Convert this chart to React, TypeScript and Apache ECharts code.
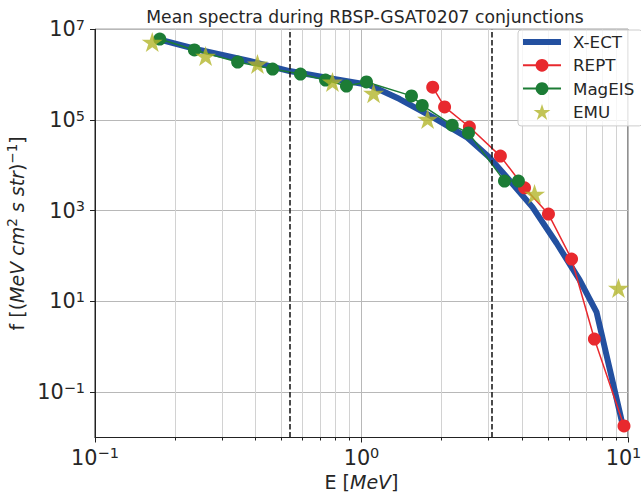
import React, { useEffect, useRef } from 'react';
import * as echarts from 'echarts';

// ---------- data ----------
const chartTitle = 'Mean spectra during RBSP-GSAT0207 conjunctions';
const seriesNames = ['X-ECT', 'REPT', 'MagEIS', 'EMU'];

// X-ECT mean spectrum (E in MeV, f in (MeV cm^2 s str)^-1)
const xectE = [0.178, 0.247, 0.38, 0.537, 0.759, 1.07, 1.39, 1.85, 2.48, 3.02, 3.59, 4.38, 5.39, 6.58, 7.62, 9.53];
const xectF = [5.8e6, 3.5e6, 2.0e6, 1.2e6, 8.4e5, 5.9e5, 2.9e5, 1.16e5, 4.2e4, 1.5e4, 4.7e3, 1.2e3, 194, 30, 5.8, 0.02];

// REPT
const reptE = [1.85, 2.05, 2.54, 3.32, 4.09, 5.03, 6.14, 7.48, 9.66];
const reptF = [5.3e5, 1.94e5, 7.0e4, 1.6e4, 3.2e3, 845, 86, 1.48, 0.018];

// MagEIS
const magE = [0.175, 0.236, 0.343, 0.464, 0.59, 0.733, 0.878, 1.044, 1.54, 1.69, 2.19, 2.52, 3.44, 3.88];
const magF = [6.1e6, 3.5e6, 1.9e6, 1.33e6, 1.03e6, 7.6e5, 5.6e5, 6.9e5, 3.4e5, 2.1e5, 7.7e4, 5.2e4, 4.5e3, 4.5e3];

// EMU
const emuE = [0.164, 0.26, 0.407, 0.778, 1.11, 1.77, 4.46, 9.21];
const emuF = [5.25e6, 2.58e6, 1.72e6, 6.9e5, 3.9e5, 1.05e5, 2.33e3, 19.7];

// vertical dashed markers (MeV)
const dashedE = [0.54, 3.07];

// axis ranges / ticks (decimal exponents)
const xMinExp = -1;
const xMaxExp = 1;
const yMinExp = -2;
const yMaxExp = 7;
const yMajorExps = [-1, 1, 3, 5, 7];
const xMinorMantissas = [2, 3, 4, 5, 6, 7, 8, 9];
const xMinorDecades = [0.1, 1];

// ---------- styling ----------
const FONT = 'DejaVu Sans';
const TEXT = '#262626';
const BLUE = '#2350a0';
const RED = '#e8292e';
const GREEN = '#1c7c35';
const OLIVE = '#b3b52a';

const toPts = (E: number[], F: number[]) => E.map((e, i) => [Math.log10(e), Math.log10(F[i])]);

const starPath = (() => {
  const pts: string[] = [];
  for (let i = 0; i < 10; i++) {
    const a = (-90 + i * 36) * Math.PI / 180;
    const r = i % 2 === 0 ? 1 : 0.382;
    pts.push(`${(r * Math.cos(a)).toFixed(4)} ${(r * Math.sin(a)).toFixed(4)}`);
  }
  return 'path://M' + pts.join(' L') + ' Z';
})();

const supStr = (n: number) => (n < 0 ? '\u2212' + Math.abs(n) : String(n));
const tickFormatter = (v: number) => {
  const n = Math.round(v);
  // keep the right-most label inside the page
  return n === xMaxExp ? `{b|10}{e|${supStr(n)}}{g| }` : `{b|10}{s|${supStr(n)}}`;
};
const yTickFormatter = (v: number) => `{b|10}{s|${supStr(Math.round(v))}}`;
const tickRich = {
  b: { fontSize: 20.8, lineHeight: 24, fontFamily: FONT, color: TEXT },
  s: { fontSize: 14.5, lineHeight: 14, verticalAlign: 'top', fontFamily: FONT, color: TEXT },
  e: { fontSize: 14.5, lineHeight: 14, verticalAlign: 'top', fontFamily: FONT, color: TEXT },
  g: { fontSize: 14.5, lineHeight: 14, width: 9, fontFamily: FONT, color: 'rgba(0,0,0,0)' },
};

const minorX: number[] = [];
xMinorDecades.forEach((d) => xMinorMantissas.forEach((m) => minorX.push(Math.log10(d * m))));

export default function App() {
  const ref = useRef<HTMLDivElement>(null);
  useEffect(() => {
    if (!ref.current) return;
    const chart = echarts.init(ref.current, undefined, { renderer: 'svg' });
    const option: any = {
      animation: false,
      backgroundColor: '#ffffff',
      textStyle: { fontFamily: FONT },
      graphic: [
        {
          type: 'text',
          x: 365,
          y: 17,
          style: {
            text: chartTitle,
            fontFamily: FONT,
            fontSize: 17.2,
            fill: TEXT,
            textAlign: 'center',
            textVerticalAlign: 'middle',
          },
        },
      ],
      grid: {
        left: 95,
        right: 13,
        top: 29.3,
        bottom: 56.5,
        show: true,
        borderColor: '#222',
        borderWidth: 1,
        backgroundColor: 'transparent',
        containLabel: false,
        outerBoundsMode: 'none',
      },
      legend: {
        data: [
          { name: seriesNames[0], icon: 'path://M0 0 H38 V6 H0 Z' },
          { name: seriesNames[1] },
          { name: seriesNames[2] },
          { name: seriesNames[3] },
        ],
        orient: 'vertical',
        left: 518,
        top: 30,
        itemWidth: 38,
        itemHeight: 16,
        itemGap: 3.3,
        symbolKeepAspect: true,
        padding: [2, 8, 4, 4],
        backgroundColor: 'rgba(255,255,255,0.8)',
        borderColor: '#cccccc',
        borderWidth: 1,
        borderRadius: 3,
        textStyle: { fontSize: 16.7, fontFamily: FONT, color: TEXT, lineHeight: 20, padding: [0, 0, 0, 7] },
      },
      xAxis: [
        {
          type: 'value',
          min: xMinExp,
          max: xMaxExp,
          interval: 1,
          name: '{n|E [}{i|MeV}{n|]}',
          nameLocation: 'middle',
          nameGap: 31,
          nameTextStyle: {
            rich: {
              n: { fontSize: 19, fontFamily: FONT, color: TEXT, lineHeight: 24 },
              i: { fontSize: 19, fontFamily: FONT, color: TEXT, fontStyle: 'italic', lineHeight: 24 },
            },
          },
          axisLine: { show: true, onZero: false, lineStyle: { color: '#222', width: 1 } },
          axisTick: { show: true, length: 5, inside: false, lineStyle: { color: '#222' } },
          axisLabel: { formatter: tickFormatter, rich: tickRich, margin: 8, showMinLabel: true, showMaxLabel: true },
          splitLine: { show: true, lineStyle: { color: '#b8b8b8', width: 1 } },
        },
        {
          type: 'value',
          min: xMinExp,
          max: xMaxExp,
          position: 'bottom',
          axisLine: { show: false, onZero: false },
          axisLabel: { show: false },
          axisTick: { show: true, customValues: minorX, length: 3, inside: false, lineStyle: { color: '#222' } },
          splitLine: { show: true, lineStyle: { color: '#d2d2d2', width: 1 } },
        },
      ],
      yAxis: {
        type: 'value',
        min: yMinExp,
        max: yMaxExp,
        name: '{n|f [(}{i|MeV cm}{s|2}{i| s str}{n|)}{s|\u22121}{n|]}',
        nameLocation: 'middle',
        nameRotate: 90,
        nameGap: 58,
        nameTextStyle: {
          rich: {
            n: { fontSize: 19, fontFamily: FONT, color: TEXT, lineHeight: 24 },
            i: { fontSize: 19, fontFamily: FONT, color: TEXT, fontStyle: 'italic', lineHeight: 24 },
            s: { fontSize: 13.5, fontFamily: FONT, color: TEXT, lineHeight: 13, verticalAlign: 'top' },
          },
        },
        axisLine: { show: true, onZero: false, lineStyle: { color: '#222', width: 1 } },
        axisTick: { show: true, customValues: yMajorExps, length: 5, inside: false, lineStyle: { color: '#222' } },
        axisLabel: { customValues: yMajorExps, formatter: yTickFormatter, rich: tickRich, margin: 10 },
        splitLine: { show: true, lineStyle: { color: '#b8b8b8', width: 1 } },
      },
      series: [
        {
          name: 'guides',
          type: 'line',
          data: [],
          silent: true,
          z: 1,
          markLine: {
            silent: true,
            symbol: ['none', 'none'],
            label: { show: false },
            lineStyle: { color: '#1e1e1e', type: [5.5, 2.5], width: 1.6 },
            data: dashedE.map((e) => ({ xAxis: Math.log10(e) })),
          },
        },
        {
          name: 'X-ECT',
          type: 'line',
          data: toPts(xectE, xectF),
          symbol: 'none',
          showSymbol: false,
          color: BLUE,
          lineStyle: { color: BLUE, width: 6, join: 'round', cap: 'round' },
          z: 2,
        },
        {
          name: 'REPT',
          type: 'line',
          data: toPts(reptE, reptF),
          symbol: 'circle',
          symbolSize: 13,
          color: RED,
          itemStyle: { color: RED },
          lineStyle: { color: RED, width: 1.5 },
          z: 3,
        },
        {
          name: 'MagEIS',
          type: 'line',
          data: toPts(magE, magF),
          symbol: 'circle',
          symbolSize: 13,
          color: GREEN,
          itemStyle: { color: GREEN },
          lineStyle: { color: GREEN, width: 1.5 },
          z: 4,
        },
        {
          name: 'EMU',
          type: 'scatter',
          data: toPts(emuE, emuF),
          symbol: starPath,
          symbolKeepAspect: true,
          symbolSize: 21,
          color: OLIVE,
          itemStyle: { color: OLIVE },
          z: 5,
        },
      ],
    };
    chart.setOption(option);
    return () => chart.dispose();
  }, []);
  return <div ref={ref} style={{ position: 'absolute', left: 0, top: 0, width: 641, height: 494 }} />;
}
